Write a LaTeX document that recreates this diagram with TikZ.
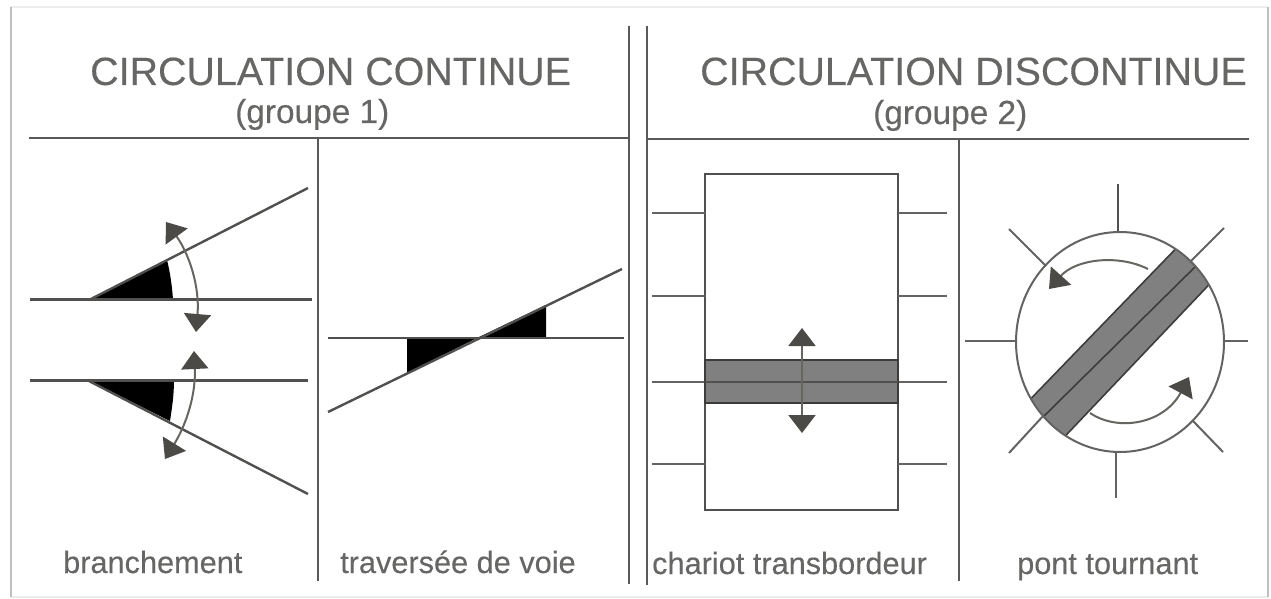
\documentclass[tikz,border=0pt]{standalone}
\usepackage{fontspec}
\setmainfont{Liberation Sans}
\usetikzlibrary{arrows.meta}
\definecolor{ink}{HTML}{3E3C3A}
\definecolor{txt}{HTML}{666664}
\definecolor{bandc}{HTML}{808080}
\definecolor{headc}{HTML}{4C4A46}
\tikzset{
  rule/.style={draw=ink!85!white,line width=2.2pt},
  thin rule/.style={draw=ink!80!white,line width=2pt},
  trackline/.style={draw=ink!90!white,line width=2.4pt},
  wedge/.style={fill=black,draw=none},
  move/.style={draw=headc!85!white,line width=2pt,{Triangle[length=18pt,width=27pt,color=headc]}-{Triangle[length=18pt,width=27pt,color=headc]}},
  turn/.style={draw=headc!85!white,line width=2pt,-{Triangle[length=18pt,width=27pt,color=headc]}},
  title/.style={anchor=base west,inner sep=0pt,text=txt,font=\fontsize{39.4}{39}\selectfont\addfontfeature{FakeBold=0.25}},
  subtitle/.style={anchor=base west,inner sep=0pt,text=txt,font=\fontsize{33.4}{33}\selectfont\addfontfeature{FakeBold=0.25}},
  caption/.style={anchor=base west,inner sep=0pt,text=txt,font=\fontsize{30.7}{30}\selectfont\addfontfeature{FakeBold=0.25}},
  band/.style={fill=bandc,draw=ink,line width=1.6pt}
}
\begin{document}
\begin{tikzpicture}[x=1pt,y=-1pt]
\useasboundingbox (0,0) rectangle (1271,599);
\fill[white] (0,0) rectangle (1271,599);
% soft frame
\draw[draw=black!7,line width=2pt] (10,7) -- (1268,7);
\draw[draw=black!7,line width=2pt] (10,597) -- (1268,597);
\draw[draw=black!25,line width=2.5pt] (11,7) -- (11,597);
\draw[draw=black!25,line width=2.5pt] (1268,7) -- (1268,597);
% titles
\node[title] (t1) at (90,85) {CIRCULATION CONTINUE};
\node[title] (t2) at (700,85) {CIRCULATION DISCONTINUE};
\node[subtitle] (s1) at (235,123) {(groupe 1)};
\node[subtitle] (s2) at (873,124) {(groupe 2)};
% main rules
\draw[rule] (29,138) -- (630,138);
\draw[rule] (648,139) -- (1249,139);
\draw[rule] (629,26) -- (629,584);
\draw[rule] (647,26) -- (647,585);
\draw[rule] (318,138) -- (318,581);
\draw[rule] (959,139) -- (959,581);
% branchement
\fill[wedge] (90,299.5) -- (167,260) .. controls (170,272) and (172,285) .. (173,299.5) -- cycle;
\fill[wedge] (88,380) -- (170,421) .. controls (172,408) and (174,395) .. (174,380) -- cycle;
\draw[trackline] (30,299.5) -- (312,299.5);
\draw[trackline] (30,380.5) -- (308,380.5);
\draw[trackline] (90,299.5) -- (308,188);
\draw[trackline] (88,380.5) -- (308,494);
\draw[move] (166,222) .. controls (188,252) and (200,285) .. (196,332);
\draw[move] (194,351) .. controls (196,395) and (186,425) .. (165,459);
% traversee
\fill[wedge] (407,338) -- (407,373) -- (477,338) -- cycle;
\fill[wedge] (477,338) -- (546,305) -- (546,338) -- cycle;
\draw[trackline] (328,338) -- (624,338);
\draw[trackline] (328,412) -- (622,269);
% chariot
\draw[trackline] (705,174) rectangle (898,510);
\foreach \y in {213,296,382,464}{
  \draw[thin rule] (652,\y) -- (705,\y);
  \draw[thin rule] (898,\y) -- (947,\y);
}
\fill[band] (705,360) rectangle (898,403);
\draw[trackline] (705,382) -- (898,382);
\draw[move] (802,328) -- (802,433);
% pont tournant
\draw[trackline] (1118,184) -- (1118,232);
\draw[thin rule] (1116,452) -- (1116,498);
\draw[thin rule] (965,341) -- (1016,341);
\draw[thin rule] (1224,341) -- (1248,341);
\draw[thin rule] (1009,229) -- (1046,266);
\draw[thin rule] (1224,228) -- (1190,262);
\draw[thin rule] (1009,453) -- (1044,415);
\draw[thin rule] (1223,452) -- (1193,421);
\begin{scope}
  \clip (1120,342) ellipse [x radius=104,y radius=110];
  \fill[band] (1190,234) -- (1222,271) -- (1051,451) -- (1018,412) -- cycle;
  \draw[draw=ink,line width=1.6pt] (1198,264) -- (1038,422);
\end{scope}
\draw[thin rule] (1120,342) ellipse [x radius=104,y radius=110];
\draw[turn] (1148,269) .. controls (1118,254) and (1076,259) .. (1049,289);
\draw[turn] (1090,413) .. controls (1118,432) and (1164,424) .. (1189,377);
% captions
\node[caption] (c1) at (63,573) {branchement};
\node[caption] (c2) at (340,573) {traversée de voie};
\node[caption] (c3) at (652,574) {chariot transbordeur};
\node[caption] (c4) at (1017,574) {pont tournant};
\end{tikzpicture}
\end{document}
